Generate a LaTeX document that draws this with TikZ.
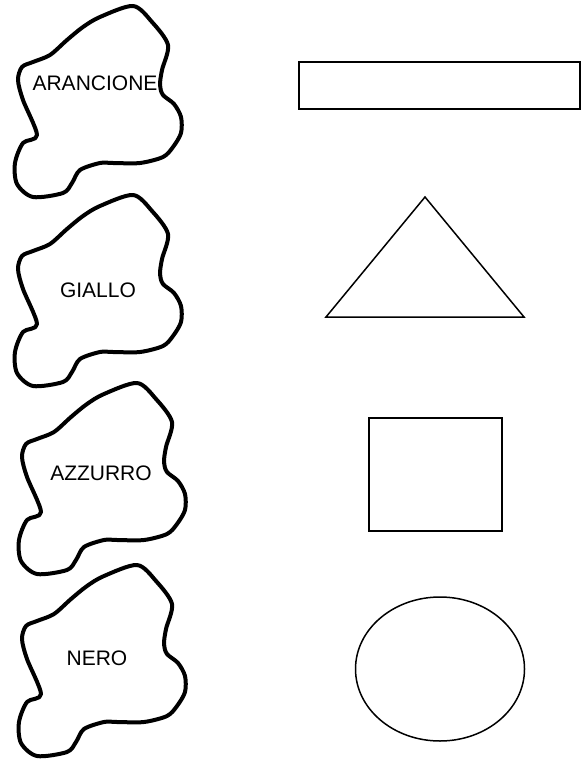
\documentclass[tikz,border=0pt]{standalone}
\usepackage{fontspec}
\setmainfont{Liberation Sans}
\begin{document}
\begin{tikzpicture}[x=1pt,y=-1pt,
  blobline/.style={line width=4pt, line join=round, draw=black, fill=white},
  shapeline/.style={line width=1.5pt, draw=black},
  label/.style={font=\fontsize{21}{24}\selectfont, inner sep=0pt},
  blob/.pic={\path[blobline] plot[smooth cycle, tension=0.5] coordinates {
    (133,6) (152,22) (168,45) (162,70) (160,85) (163,95) (174,104) (181,117) (181,133)
    (173,147) (163,157) (140,163) (113,163) (100,163) (80,170) (72,183) (63,193)
    (33,197) (17,184) (15,163) (23,143) (37,135) (23,100) (18,80) (22,67)
    (33,62) (50,55) (67,40) (83,27) (100,17)};}
]
\useasboundingbox (0,0) rectangle (585,762);
\pic at (0,0) {blob};
\pic at (0,189) {blob};
\pic at (4,377) {blob};
\pic at (4,559) {blob};
\node[label] (t1) at (95,83) {ARANCIONE};
\node[label] (t2) at (98,290) {GIALLO};
\node[label] (t3) at (101,473) {AZZURRO};
\node[label] (t4) at (97,658) {NERO};
\draw[shapeline] (299,62) rectangle (580,109);
\draw[shapeline, line join=miter] (425,197) -- (524,317) -- (326,317) -- cycle;
\draw[shapeline] (369,418) rectangle (502,531);
\draw[shapeline] (440,669) ellipse [x radius=84.5, y radius=72];
\end{tikzpicture}
\end{document}
